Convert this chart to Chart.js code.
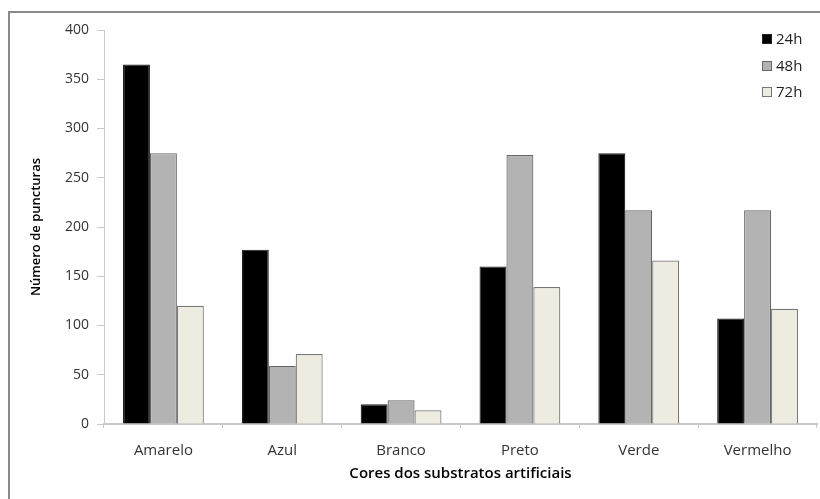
<!DOCTYPE html>
<html>
<head>
<meta charset="utf-8">
<script src="https://cdn.jsdelivr.net/npm/chart.js@4"></script>
<style>
  html, body { margin: 0; padding: 0; background: #fff; }
  #wrap { position: relative; width: 820px; height: 499px; }
  #frame { position: absolute; left: 8px; top: 11px; width: 830px; height: 500px;
           border-left: 2px solid #8a8a8a; border-top: 2px solid #8a8a8a; }
  #legend { position: absolute; left: 762px; top: 28px; font: 15px "Open Sans", sans-serif; color: #222; }
  #legend div { height: 26.5px; line-height: 20px; white-space: nowrap; }
  #legend span.box { display: inline-block; width: 10px; height: 10px; margin-right: 4px;
                     vertical-align: 0px; box-sizing: border-box; border: 1px solid #666; }
</style>
</head>
<body>
<div id="wrap">
  <div id="frame"></div>
  <canvas id="chart" width="820" height="499"></canvas>
  <div id="legend"></div>
</div>
<script>
// data
const categories = ['Amarelo', 'Azul', 'Branco', 'Preto', 'Verde', 'Vermelho'];
const h24 = [365, 177, 20, 160, 275, 107];
const h48 = [275, 59, 24, 273, 217, 217];
const h72 = [120, 71, 14, 139, 166, 117];
const seriesNames = ['24h', '48h', '72h'];
const yTicks = [0, 50, 100, 150, 200, 250, 300, 350, 400];

const fills = ['#000000', '#b3b3b3', '#eeebe0'];
const borders = ['#222222', '#666666', '#777777'];

const ctx = document.getElementById('chart').getContext('2d');
const chart = new Chart(ctx, {
  type: 'bar',
  data: {
    labels: categories,
    datasets: [h24, h48, h72].map((vals, i) => ({
      label: seriesNames[i],
      data: vals,
      backgroundColor: fills[i],
      borderColor: borders[i],
      borderWidth: 1.2,
      categoryPercentage: 0.68,
      barPercentage: 1.0,
    }))
  },
  options: {
    responsive: false,
    animation: false,
    layout: { padding: { left: 24, top: 30, right: 3, bottom: 16 } },
    plugins: {
      legend: { display: false },
      tooltip: { enabled: false }
    },
    scales: {
      x: {
        grid: { offset: true, drawOnChartArea: false, drawTicks: true, tickLength: 4, color: '#c8c8c8' },
        border: { color: '#c8c8c8', width: 2 },
        ticks: { color: '#333', font: { family: '"Open Sans", sans-serif', size: 15 }, padding: 14 },
        title: {
          display: true,
          text: 'Cores dos substratos artificiais',
          color: '#000',
          font: { family: '"Open Sans", sans-serif', size: 15, weight: '600' },
          padding: { top: 2, bottom: 0 }
        },
        afterFit: (s) => { s.height = 59; }
      },
      y: {
        min: 0,
        max: 400,
        afterBuildTicks: (s) => { s.ticks = yTicks.map(v => ({ value: v })); },
        grid: { drawOnChartArea: false, drawTicks: true, tickLength: 7, color: '#c8c8c8' },
        border: { color: '#c8c8c8', width: 1 },
        ticks: { color: '#333', font: { family: '"Open Sans", sans-serif', size: 14 }, padding: 8 },
        title: {
          display: true,
          text: 'Número de puncturas',
          color: '#000',
          font: { family: '"Open Sans", sans-serif', size: 13, weight: '600' },
          padding: { bottom: 0 }
        },
        afterFit: (s) => { s.width = 80; }
      }
    }
  }
});

// legend stacked in the top right corner
const legendEl = document.getElementById('legend');
chart.data.datasets.forEach((ds) => {
  const row = document.createElement('div');
  const box = document.createElement('span');
  box.className = 'box';
  box.style.background = ds.backgroundColor;
  box.style.borderColor = ds.borderColor;
  row.appendChild(box);
  row.appendChild(document.createTextNode(ds.label));
  legendEl.appendChild(row);
});
</script>
</body>
</html>
